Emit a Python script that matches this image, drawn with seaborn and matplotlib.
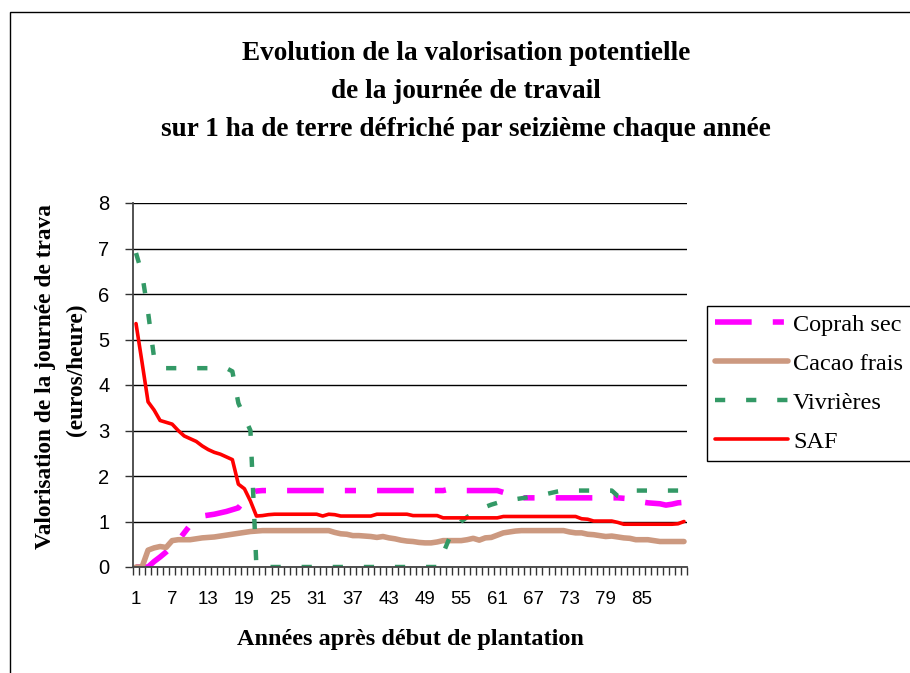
import numpy as np
import pandas as pd
import seaborn as sns
import matplotlib.pyplot as plt
from matplotlib.patches import Rectangle
from matplotlib.ticker import FixedLocator, MultipleLocator

# values (years 1..92)
years = list(range(1, 93))
xtick_labels = list(range(1, 86, 6))

saf = [5.35, 4.5, 3.63, 3.45, 3.22, 3.18, 3.14, 3.0, 2.88, 2.82, 2.76, 2.66, 2.58, 2.52,
       2.48, 2.42, 2.36, 1.82, 1.72, 1.45, 1.12, 1.13, 1.15] \
    + [1.16] * 8 + [1.12, 1.16, 1.15] + [1.12] * 6 + [1.16] * 6 + [1.13] * 5 \
    + [1.08] * 10 + [1.11] * 13 + [1.06, 1.05] + [1.01] * 4 + [0.98] + [0.94] * 9 + [0.95, 1.0]

cacao = [0, 0, 0.37, 0.42, 0.45, 0.43, 0.58, 0.6, 0.6, 0.6, 0.62, 0.64, 0.65, 0.66, 0.68,
         0.70, 0.72, 0.74, 0.76, 0.78, 0.79] + [0.80] * 12 \
    + [0.76, 0.73, 0.72, 0.69, 0.69, 0.68, 0.67, 0.65, 0.67, 0.64, 0.62, 0.59, 0.57, 0.56,
       0.54, 0.53, 0.53, 0.55] + [0.58] * 4 \
    + [0.60, 0.63, 0.59, 0.64, 0.65, 0.70, 0.75, 0.77, 0.79] + [0.80] * 8 \
    + [0.77, 0.75, 0.75, 0.72, 0.71, 0.69, 0.67, 0.68, 0.66, 0.64, 0.63, 0.60, 0.60, 0.60,
       0.58] + [0.56] * 5

coprah = [0, 0, 0, 0.12, 0.22, 0.33, 0.45, 0.58, 0.75, 0.92, 1.04, 1.12, 1.14, 1.16, 1.19,
          1.22, 1.26, 1.30, 1.47, 1.62, 1.67] + [1.68] * 31 + [1.71] + [1.68] * 8 \
    + [1.64, 1.60, 1.57] + [1.52] * 17 \
    + [1.51, 1.50, 1.46, 1.43, 1.41, 1.40, 1.39, 1.36, 1.38, 1.41, 1.42]

vivrieres = [6.9, 6.45, 5.6, 4.6] + [4.37] * 12 + [4.3, 3.6, 3.3, 3.0] + [0] * 31 \
    + [0.3, 0.62, 0.85, 1.0, 1.1, 1.18, 1.26, 1.32, 1.37, 1.41, 1.44, 1.47, 1.49, 1.51,
       1.53, 1.55, 1.57, 1.6, 1.63, 1.66] + [1.68] * 9 + [1.56, 1.52, 1.6] + [1.68] * 9

df = pd.DataFrame({"annee": years, "Coprah sec": coprah, "Cacao frais": cacao,
                   "Vivrières": vivrieres, "SAF": saf})

sns.set_style("white")
plt.rcParams['font.family'] = ['Liberation Sans', 'DejaVu Sans']
plt.rcParams['text.color'] = 'black'
plt.rcParams['xtick.color'] = 'black'
plt.rcParams['ytick.color'] = 'black'

fig = plt.figure(figsize=(9.1, 6.73), dpi=100)
ax = fig.add_axes([133 / 910, 1 - 567 / 673, 554 / 910, 364 / 673])

# series styles: (colour, width, dash pattern)
styles = {
    "Coprah sec": ("#FF00FF", 4.0, (0, (6.6, 3.8, 2.0, 3.8))),
    "Cacao frais": ("#CC9980", 4.0, "-"),
    "Vivrières": ("#339966", 3.2, (0, (2.3, 4.7))),
    "SAF": ("#FF0000", 2.6, "-"),
}
for name, (col, lw, ls) in styles.items():
    sns.lineplot(data=df, x="annee", y=name, ax=ax, color=col, linewidth=lw,
                 linestyle=ls, label=name)

ax.set_xlim(0.5, 92.5)
ax.set_ylim(0, 8)
ax.set_xlabel("")
ax.set_ylabel("")
ax.yaxis.set_major_locator(MultipleLocator(1))
ax.xaxis.set_major_locator(FixedLocator(xtick_labels))
ax.xaxis.set_minor_locator(FixedLocator(np.arange(0.5, 93, 1)))
ax.tick_params(axis='x', which='major', length=0, pad=17, labelsize=13.5, labelcolor='black')
ax.tick_params(axis='x', which='minor', length=6, width=1, color='#333333', bottom=True)
ax.tick_params(axis='y', length=6, width=1, color='#333333', left=True, pad=11, labelsize=14.5,
               labelcolor='black')

ax.grid(axis='y', color='black', linewidth=1)
ax.get_ygridlines()[-1].set_color('#d8d8d8')
ax.set_axisbelow(True)
for s in ['top', 'right']:
    ax.spines[s].set_visible(False)
for s in ['left', 'bottom']:
    ax.spines[s].set_color('#444444')
    ax.spines[s].set_linewidth(1.3)

handles, labels = ax.get_legend_handles_labels()
ax.get_legend().remove()
leg = fig.legend(handles, labels, loc='upper left', bbox_to_anchor=(707 / 910, 1 - 306 / 673),
                 frameon=True, fancybox=False, edgecolor='black', framealpha=1,
                 prop={'family': 'Liberation Serif', 'size': 17.5}, handlelength=3.0,
                 handletextpad=0.22, labelspacing=0.7, borderpad=0.32, borderaxespad=0)
leg.get_frame().set_linewidth(1)
for t in leg.get_texts():
    t.set_color('black')

serif_bold = dict(family='Liberation Serif', weight='bold', color='black')
titles = ["Evolution de la valorisation potentielle",
          "de la journée de travail",
          "sur 1 ha de terre défriché par seizième chaque année"]
for txt, ypx in zip(titles, [54, 91, 129]):
    fig.text(466 / 910, 1 - ypx / 673, txt, ha='center', va='center', fontsize=19.6, **serif_bold)

fig.text(46 / 910, 1 - 377 / 673, "Valorisation de la journée de trava", rotation=90,
         ha='center', va='center', fontsize=16.8, **serif_bold)
fig.text(76 / 910, 1 - 370 / 673, "(euros/heure)", rotation=90,
         ha='center', va='center', fontsize=16.8, **serif_bold)
fig.text(410 / 910, 1 - 639 / 673, "Années après début de plantation",
         ha='center', va='center', fontsize=17.5, **serif_bold)

# outer chart frame (runs off the right and bottom edges as in the reference)
fig.patches.append(Rectangle((10 / 910, -0.1), 1.2, 1 - 12 / 673 + 0.1,
                             transform=fig.transFigure, fill=False, edgecolor='black',
                             linewidth=1))

fig.savefig("out.png", dpi=100)
